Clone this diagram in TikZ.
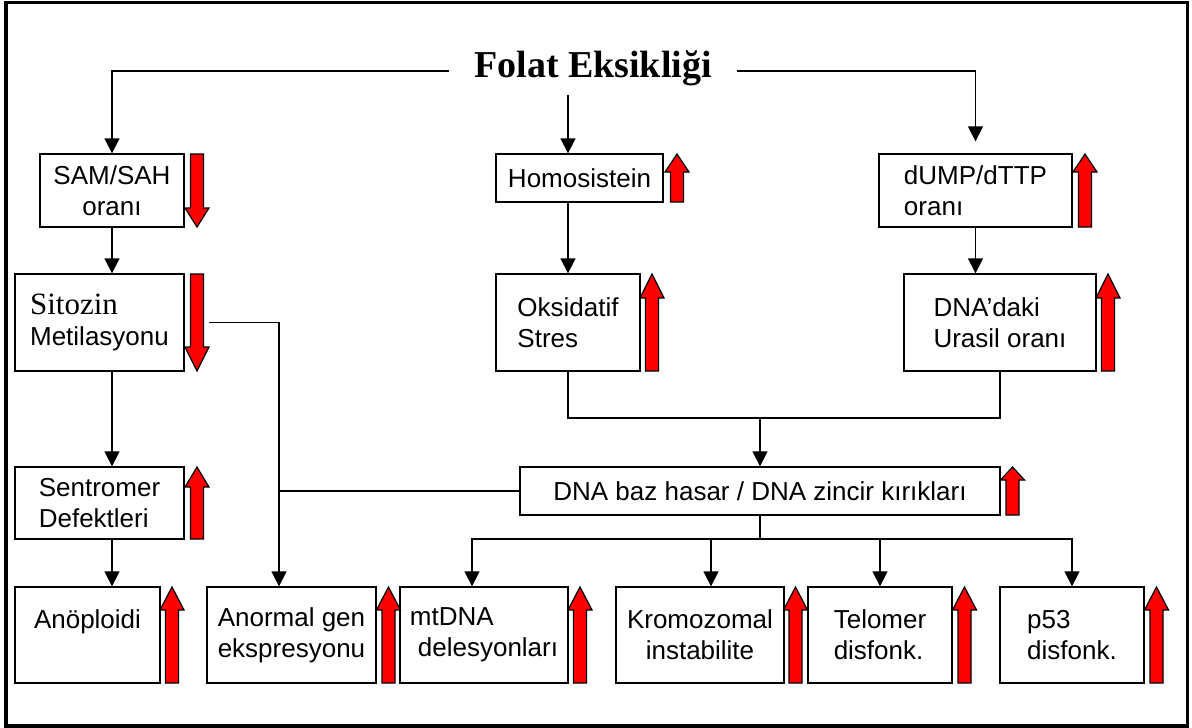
\documentclass[tikz,border=0pt]{standalone}
\usepackage{fontspec}
\setmainfont{Liberation Serif}
\setsansfont{Liberation Sans}
\usetikzlibrary{arrows.meta}

% red block arrows beside the boxes: x centre, top, bottom, head length
\newcommand{\upred}[4]{\filldraw[redarr] (#1,#2) -- (#1+12,#2+#4) -- (#1+6.5,#2+#4) -- (#1+6.5,#3) -- (#1-6.5,#3) -- (#1-6.5,#2+#4) -- (#1-12,#2+#4) -- cycle;}
\newcommand{\downred}[4]{\filldraw[redarr] (#1,#3) -- (#1+12,#3-#4) -- (#1+6.5,#3-#4) -- (#1+6.5,#2) -- (#1-6.5,#2) -- (#1-6.5,#3-#4) -- (#1-12,#3-#4) -- cycle;}

\tikzset{
  box/.style={draw, line width=1.3pt, inner sep=0pt, align=center,
    font=\sffamily\fontsize{26}{31}\selectfont},
  redarr/.style={fill=red, draw=black, line width=1.2pt},
}

\begin{document}
\begin{tikzpicture}[x=1pt, y=-1pt, line width=1.3pt, >={Triangle[length=15pt,width=15pt]}]
	\useasboundingbox (0,0) rectangle (1192,728);
	\draw[line width=3.5pt] (6,2.5) rectangle (1187.5,726);
	\node[font=\rmfamily\bfseries\fontsize{38}{40}\selectfont, inner xsep=25pt, inner ysep=4pt, text height=26pt, text depth=13pt] (title) at (593,71) {Folat Eksikliği};
	\node[box, minimum width=144, minimum height=73] (sam) at (112,190.5) {SAM/SAH\\oranı};
	\node[box, minimum width=167, minimum height=48] (homo) at (579.5,178) {Homosistein};
	\node[box, minimum width=193, minimum height=73, align=left] (dump) at (975.5,190.5) {dUMP/dTTP\\ oranı};
	\node[box, minimum width=169, minimum height=97, align=left] (sit) at (99.5,322.5) {{\rmfamily\fontsize{31}{31}\selectfont Sitozin}\\Metilasyonu};
	\node[box, minimum width=144, minimum height=97, align=left] (oks) at (568,322.5) {Oksidatif\\Stres};
	\node[box, minimum width=192, minimum height=97, align=left] (ura) at (1000,322.5) {DNA’daki\\Urasil oranı};
	\node[box, minimum width=169, minimum height=72, align=left] (sen) at (99.5,503) {Sentromer\\Defektleri};
	\node[box, minimum width=480, minimum height=48] (dna) at (760,491) {DNA baz hasar / DNA zincir kırıkları};
	\node[box, minimum width=145, minimum height=96, align=left] (ano) at (87.5,635) {Anöploidi\\\mbox{}};
	\node[box, minimum width=169, minimum height=96] (anor) at (291.5,635) {Anormal gen\\ekspresyonu};
	\node[box, minimum width=168, minimum height=96, align=left] (mt) at (484,635) {mtDNA\\\hspace{8pt}delesyonları};
	\node[box, minimum width=168, minimum height=96] (krom) at (700,635) {Kromozomal\\instabilite};
	\node[box, minimum width=144, minimum height=96, align=left] (tel) at (880,635) {Telomer\\disfonk.};
	\node[box, minimum width=144, minimum height=96, align=left] (p53) at (1072,635) {p53\\disfonk.};
	\coordinate (join) at (760,418);
	\coordinate (gx) at (279,491);
	\coordinate (bus) at (760,539);
	\draw [->] (title.west) -| (sam.north);
	\draw [->] (title.east) -| ([yshift=12pt]dump.north);
	\draw [->] (title.south -| oks) -- (homo.north -| oks);
	\draw [->] (sam) -- (sam |- sit.north);
	\draw [->] (sit.south -| sam) -- (sen.north -| sam);
	\draw [->] (sen.south -| sam) -- (ano.north -| sam);
	\draw [->] (homo.south -| oks) -- (oks);
	\draw [->] (dump) -- (dump |- ura.north);
	\draw (oks) -- (oks |- join) -| (ura);
	\draw [->] (join) -- (dna);
	\draw [->] ([xshift=24pt]sit.east) -| (anor.north -| gx);
	\draw (dna) -- (gx);
	\draw (dna) -- (bus);
	\draw [->] (bus) -| ([xshift=-12pt]mt.north);
	\draw [->] (bus) -| ([xshift=11pt]krom.north);
	\draw [->] (bus) -| (tel);
	\draw [->] (bus) -| (p53);
	\downred{197}{154}{227}{19}
	\downred{197}{274}{371}{24}
	\upred{197}{467}{539}{20}
	\upred{677}{154}{202}{18}
	\upred{1085}{154}{227}{18}
	\upred{652}{274}{371}{24}
	\upred{1108}{274}{371}{24}
	\upred{1012.5}{467}{515}{13}
	\upred{172}{587}{683}{23}
	\upred{388.5}{587}{683}{23}
	\upred{580}{587}{683}{23}
	\upred{795.5}{587}{683}{23}
	\upred{964.5}{587}{683}{23}
	\upred{1156.5}{587}{683}{23}
\end{tikzpicture}
\end{document}
